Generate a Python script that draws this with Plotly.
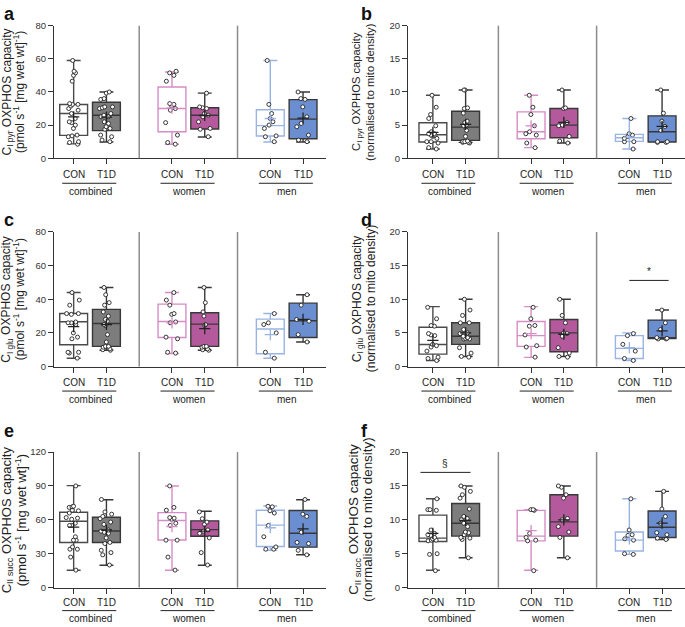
import plotly.graph_objects as go

W, H = 685, 627

GROUPS = ["combined", "women", "men"]
CONDS = ["CON", "T1D"]
POSITIONS = [0, 1, 3, 4, 6, 7]          # combined CON/T1D, women CON/T1D, men CON/T1D
SEPARATORS = [2, 5]

# ---------------- panel a : CI pyr, per mg wet wt ----------------
a_women_con = [52.5, 51.5, 50, 46.5, 33, 32.5, 31.5, 30, 29, 21.5, 14, 9.5, 8.5]
a_women_t1d = [39.3, 31, 30.5, 30, 27, 26, 25, 22, 18, 17.5, 13]
a_men_con = [59, 32.5, 27, 24, 22, 20, 18, 13.5, 13, 10]
a_men_t1d = [40, 36, 35.5, 31, 25, 21, 19, 14, 11, 10]
a_lower = [8.7, 9.8, 8.5, 12.8, 9.8, 9.8]
a_q1 = [13.8, 16.7, 16.0, 17.7, 13.4, 11.8]
a_median = [27.0, 26.0, 30.0, 26.0, 19.7, 23.6]
a_q3 = [32.4, 33.8, 43.0, 30.5, 29.3, 35.4]
a_upper = [59, 40, 52, 39.3, 59, 40]
a_mean = [25.0, 24.8, 30.2, 25.8, 24.0, 24.2]

# ---------------- panel b : CI pyr, normalised ----------------
b_women_con = [9.5, 7.7, 6.6, 4.9, 4.0, 3.7, 3.5, 2.3, 1.6]
b_women_t1d = [10.3, 7.6, 7.5, 5.4, 5.0, 4.9, 3.3, 2.6, 2.3]
b_men_con = [6.0, 3.7, 3.5, 3.3, 3.0, 2.5, 2.5, 1.4]
b_men_t1d = [10.3, 6.8, 5.6, 4.8, 4.2, 2.5, 2.5, 2.4, 2.4]
b_lower = [1.4, 2.4, 1.6, 2.3, 1.4, 2.4]
b_q1 = [2.46, 2.7, 2.95, 3.1, 2.55, 2.46]
b_median = [3.54, 4.7, 4.0, 5.0, 3.1, 4.0]
b_q3 = [5.36, 7.1, 7.0, 7.5, 3.6, 6.4]
b_upper = [9.5, 10.3, 9.5, 10.3, 6.0, 10.3]
b_mean = [3.9, 5.1, 4.9, 5.4, 3.2, 4.8]

# ---------------- panel c : CI glu, per mg wet wt ----------------
c_women_con = [44, 39.5, 36.5, 31.5, 31, 26.5, 26, 17.5, 16.5, 8.5, 8]
c_women_t1d = [47, 38, 32.5, 30, 25, 24.5, 12, 12, 11.5, 10.5, 10, 9.7]
c_men_con = [31.5, 26, 25, 20, 8.5, 5]
c_men_t1d = [42.7, 36.5, 28, 27, 19, 14.6]
c_lower = [4.9, 9.7, 7.8, 9.7, 4.9, 14.6]
c_q1 = [13.0, 12.0, 17.3, 12.0, 7.6, 17.3]
c_median = [26.6, 25.6, 26.8, 25.2, 22.3, 27.2]
c_q3 = [31.5, 34.0, 37.1, 32.0, 28.2, 37.7]
c_upper = [44, 47, 44, 47, 31.5, 42.7]
c_mean = [23.7, 25.0, 26.0, 22.5, 19.0, 28.0]

# ---------------- panel d : CI glu, normalised ----------------
d_women_con = [8.8, 7.1, 6.1, 6.0, 4.7, 3.1, 2.9, 1.4]
d_women_t1d = [10, 7.6, 6.5, 5.0, 4.9, 4.5, 2.8, 2.0, 1.5, 1.4]
d_men_con = [4.9, 4.6, 3.3, 2.3, 1.2, 0.9]
d_men_t1d = [8.4, 6.5, 5.5, 4.3, 4.2, 4.1, 4.1]
d_lower = [0.9, 1.5, 1.37, 1.5, 0.9, 4.1]
d_q1 = [1.85, 3.3, 3.0, 2.2, 1.2, 4.15]
d_median = [3.27, 4.5, 4.6, 5.0, 2.7, 4.3]
d_q3 = [5.85, 6.5, 6.7, 7.0, 4.6, 6.9]
d_upper = [8.9, 10, 8.9, 10, 5.0, 8.4]
d_mean = [3.9, 5.0, 4.9, 4.8, 2.8, 5.3]

# ---------------- panel e : CII succ, per mg wet wt ----------------
e_women_con = [90, 71, 68.5, 62, 61.5, 60.5, 57, 55, 42, 42, 27, 15.5]
e_women_t1d = [67, 61, 58, 56, 51, 50, 48, 44, 31, 20]
e_men_con = [72, 71.5, 68, 66, 55, 45, 36, 34, 34]
e_men_t1d = [78, 65, 63, 49, 40, 39, 33, 29]
e_lower = [15.4, 19.8, 15.4, 19.8, 33.0, 29.1]
e_q1 = [39.9, 39.9, 42.2, 45.4, 36.4, 35.8]
e_median = [58.8, 50.1, 59.4, 51.3, 55.3, 48.1]
e_q3 = [66.7, 62.3, 66.4, 59.1, 68.5, 68.2]
e_upper = [90.3, 77.8, 90.0, 67.6, 72.2, 77.8]
e_mean = [53.5, 51.0, 54.0, 50.0, 53.0, 52.0]

# ---------------- panel f : CII succ, normalised ----------------
f_women_con = [11.5, 11.5, 11.4, 8.0, 7.4, 7.0, 6.9, 2.5]
f_women_t1d = [15, 14.8, 13.7, 13.2, 10.2, 10.0, 9.0, 8.2, 7.4, 4.4]
f_men_con = [13.1, 8.5, 7.8, 7.7, 7.2, 7.0, 5.0, 4.9]
f_men_t1d = [14.2, 11.6, 10.5, 9.5, 8.1, 7.8, 7.3, 7.1]
f_lower = [2.57, 4.4, 2.57, 4.4, 4.9, 7.1]
f_q1 = [6.8, 7.6, 6.9, 7.6, 5.4, 7.4]
f_median = [7.3, 9.5, 7.6, 9.7, 7.0, 8.9]
f_q3 = [10.7, 12.4, 11.4, 13.7, 8.2, 11.3]
f_upper = [13.1, 15.0, 11.5, 15.0, 13.1, 14.2]
f_mean = [8.0, 9.9, 8.4, 10.0, 7.2, 9.5]

# significance bars: (panel, x0, x1, y, label)
SIG = [("d", 6.0, 7.2, 12.8, "*"), ("f", -0.38, 1.15, 17.0, "§")]

Y_TITLE1 = {
    "a": "C<sub>I pyr</sub> OXPHOS capacity",
    "b": "C<sub>I pyr</sub> OXPHOS capacity",
    "c": "C<sub>I glu</sub> OXPHOS capacity",
    "d": "C<sub>I glu</sub> OXPHOS capacity",
    "e": "C<sub>II succ</sub> OXPHOS capacity",
    "f": "C<sub>II succ</sub> OXPHOS capacity",
}
UNIT_WET = "(pmol s<sup>-1</sup> [mg wet wt]<sup>-1</sup>)"
UNIT_NORM = "(normalised to mito density)"
Y_TITLE2 = {"a": UNIT_WET, "b": UNIT_NORM, "c": UNIT_WET, "d": UNIT_NORM, "e": UNIT_WET, "f": UNIT_NORM}
Y_MAX = {"a": 80, "b": 20, "c": 80, "d": 20, "e": 120, "f": 20}
Y_DTICK = {"a": 20, "b": 5, "c": 20, "d": 5, "e": 30, "f": 5}

# ------------------------------------------------------------------
panels = {
    "a": (a_women_con, a_women_t1d, a_men_con, a_men_t1d, a_lower, a_q1, a_median, a_q3, a_upper, a_mean),
    "b": (b_women_con, b_women_t1d, b_men_con, b_men_t1d, b_lower, b_q1, b_median, b_q3, b_upper, b_mean),
    "c": (c_women_con, c_women_t1d, c_men_con, c_men_t1d, c_lower, c_q1, c_median, c_q3, c_upper, c_mean),
    "d": (d_women_con, d_women_t1d, d_men_con, d_men_t1d, d_lower, d_q1, d_median, d_q3, d_upper, d_mean),
    "e": (e_women_con, e_women_t1d, e_men_con, e_men_t1d, e_lower, e_q1, e_median, e_q3, e_upper, e_mean),
    "f": (f_women_con, f_women_t1d, f_men_con, f_men_t1d, f_lower, f_q1, f_median, f_q3, f_upper, f_mean),
}

# layout geometry in pixels
LEFT_X = (54, 326)
RIGHT_X = (408, 685)
ROWS_Y = [(20, 155), (230, 367), (454, 592)]
X_RANGE_LEFT = [-0.6, 7.7]
X_RANGE_RIGHT = [-0.76, 7.7]
TITLE_SIZE = {"a": 12, "b": 11.2, "c": 12, "d": 12, "e": 13, "f": 13.4}
TITLE_X = {"a": (7.5, 19), "b": (357, 370), "c": (7.5, 19), "d": (358, 371),
           "e": (7.5, 20.5), "f": (355, 368)}
LABEL_SHIFT = [(-16.5, -25, -33), (-16, -24.5, -32.5), (-15, -23, -31)]

FILL = ["#ffffff", "#7d7d7d", "#ffffff", "#b45a9c", "#ffffff", "#6a8ed0"]
LINE = ["#4a4a4a", "#383838", "#d68cc5", "#383838", "#99b3e3", "#383838"]
MEAN_COL = ["#222222", "#222222", "#d68cc5", "#222222", "#99b3e3", "#222222"]

FONT = "Liberation Sans, Arial, Helvetica, sans-serif"

fig = go.Figure()
layout = dict(
    width=W, height=H, margin=dict(l=0, r=0, t=0, b=0),
    paper_bgcolor="white", plot_bgcolor="white",
    font=dict(family=FONT, color="#222", size=10),
    showlegend=False, boxmode="overlay",
)
annotations = []
shapes = []

for idx, key in enumerate(["a", "b", "c", "d", "e", "f"]):
    n = idx + 1
    suf = "" if n == 1 else str(n)
    row, col = idx // 2, idx % 2
    wc, wt, mc, mt, lo, q1, med, q3, up, mean = panels[key]
    groups_pts = [wc + mc, wt + mt, wc, wt, mc, mt]
    xpx = LEFT_X if col == 0 else RIGHT_X
    ypx = ROWS_Y[row]
    xr = X_RANGE_LEFT if col == 0 else X_RANGE_RIGHT
    s_cond, s_line, s_group = LABEL_SHIFT[row]

    layout["xaxis" + suf] = dict(
        domain=[xpx[0] / W, xpx[1] / W], range=xr, anchor="y" + suf,
        showline=True, linecolor="#333", linewidth=1, ticks="outside",
        tickvals=POSITIONS, ticklen=5, tickcolor="#333", tickwidth=1,
        showticklabels=False, showgrid=False, zeroline=False, fixedrange=True,
    )
    layout["yaxis" + suf] = dict(
        domain=[1 - ypx[1] / H, 1 - ypx[0] / H], range=[0, Y_MAX[key]], anchor="x" + suf,
        showline=True, linecolor="#333", linewidth=1, ticks="outside",
        dtick=Y_DTICK[key], tick0=0, ticklen=5, tickcolor="#333", tickwidth=1,
        tickfont=dict(size=9.5, color="#333"), showgrid=False, zeroline=False, fixedrange=True,
    )

    for i in range(6):
        fig.add_trace(go.Box(
            x=[POSITIONS[i]], y=[groups_pts[i]],
            q1=[q1[i]], median=[med[i]], q3=[q3[i]],
            lowerfence=[lo[i]], upperfence=[up[i]],
            boxpoints="all", jitter=0.55, pointpos=0,
            width=0.85, whiskerwidth=0.5,
            fillcolor=FILL[i], line=dict(color=LINE[i], width=1.4),
            marker=dict(color="white", size=4, line=dict(color="#222", width=0.9)),
            xaxis="x" + suf, yaxis="y" + suf, hoverinfo="skip", showlegend=False,
        ))
    fig.add_trace(go.Scatter(
        x=POSITIONS, y=mean, mode="markers",
        marker=dict(symbol="cross-thin", size=8, line=dict(color=MEAN_COL, width=1.3)),
        xaxis="x" + suf, yaxis="y" + suf, hoverinfo="skip", showlegend=False,
    ))

    xref = "x" + suf
    ydom = "y" + suf + " domain"
    for s in SEPARATORS:
        shapes.append(dict(type="line", xref=xref, yref=ydom, x0=s, x1=s, y0=0, y1=1,
                           line=dict(color="#8c8c8c", width=1.5)))
    for i, p in enumerate(POSITIONS):
        annotations.append(dict(text=CONDS[i % 2], x=p, xref=xref, y=0, yref=ydom,
                                yshift=s_cond, showarrow=False, yanchor="middle",
                                font=dict(size=10, color="#222")))
    for g in range(3):
        pc, pt = POSITIONS[2 * g], POSITIONS[2 * g + 1]
        shapes.append(dict(type="line", xref=xref, yref=ydom, ysizemode="pixel", yanchor=0,
                           x0=pc - 0.35, x1=pt + 0.3, y0=s_line, y1=s_line,
                           line=dict(color="#222", width=1)))
        annotations.append(dict(text=GROUPS[g], x=(pc + pt) / 2, xref=xref, y=0, yref=ydom,
                                yshift=s_group, showarrow=False, yanchor="middle",
                                font=dict(size=10, color="#222")))

    # y title (two separate rotated lines)
    ycen = 1 - (ypx[0] + ypx[1]) / 2 / H
    for txt, tx in zip((Y_TITLE1[key], Y_TITLE2[key]), TITLE_X[key]):
        annotations.append(dict(text=txt, textangle=-90, xref="paper", yref="paper",
                                x=tx / W, y=ycen, showarrow=False,
                                xanchor="center", yanchor="middle",
                                font=dict(size=TITLE_SIZE[key], color="#222")))
    # panel letter
    lx = 2 if col == 0 else 359
    ly = [8, 218, 433][row]
    annotations.append(dict(text="<b>%s</b>" % key, xref="paper", yref="paper",
                            x=lx / W, y=1 - ly / H, showarrow=False, xanchor="left",
                            yanchor="middle", font=dict(size=18, color="#111")))

    for (pk, x0, x1, yv, lab) in SIG:
        if pk == key:
            shapes.append(dict(type="line", xref=xref, yref="y" + suf, x0=x0, x1=x1, y0=yv, y1=yv,
                               line=dict(color="#222", width=1)))
            annotations.append(dict(text=lab, x=(x0 + x1) / 2, xref=xref, y=yv, yref="y" + suf,
                                    yanchor="bottom", yshift=1, showarrow=False,
                                    font=dict(size=10, color="#222")))

layout["annotations"] = annotations
layout["shapes"] = shapes
fig.update_layout(**layout)
fig.write_html("out.html", config={"displayModeBar": False},
               post_script="document.body.style.margin='0';document.body.style.overflow='hidden';")
